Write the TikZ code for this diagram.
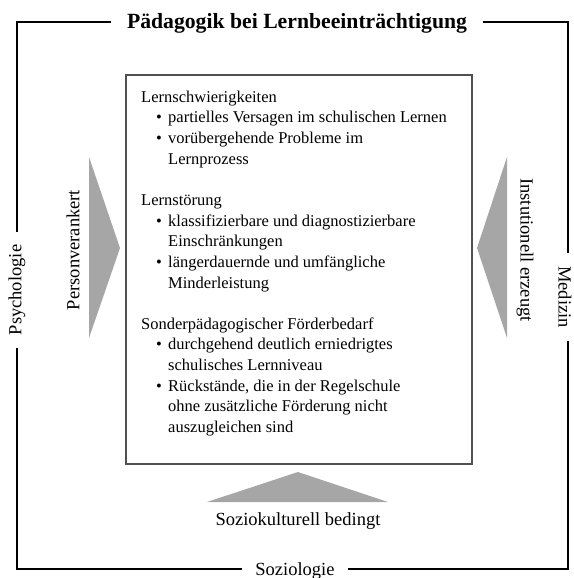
\documentclass[tikz,border=0pt]{standalone}
\usepackage{fontspec}
\setmainfont{Liberation Serif}
\usetikzlibrary{positioning}
\definecolor{pfeilgrau}{RGB}{166,166,166}
\definecolor{kastengrau}{RGB}{80,80,80}
\newcommand{\punkt}{\hspace*{15pt}\makebox[12pt][l]{\textbullet}}
\newcommand{\weiter}{\hspace*{27pt}}

\begin{document}
\begin{tikzpicture}[
    x=1pt, y=-1pt,
    rahmen/.style={draw, line width=1.3pt, minimum width=551pt, minimum height=547pt, inner sep=0pt},
    kasten/.style={draw=kastengrau, line width=1.5pt, minimum width=346pt, minimum height=389pt, inner sep=0pt},
    fach/.style={fill=white, inner xsep=13pt, inner ysep=1pt, font=\fontsize{18.5}{22}\selectfont},
    titel/.style={fill=white, inner xsep=16pt, inner ysep=1pt, font=\fontsize{21.7}{26}\selectfont\bfseries},
    ursache/.style={inner sep=0pt, font=\fontsize{18.5}{22}\selectfont},
    inhalt/.style={inner sep=0pt, align=left, font=\fontsize{16.5}{20.65}\selectfont},
    pfeil/.style={fill=pfeilgrau}
]
    \useasboundingbox (0,0) rectangle (573,578);

    % Rahmen mit Bezugsdisziplinen
    \node[rahmen] (rahmen) at (292.5,295.5) {};
    \node[titel, anchor=base] (titel) at (297,29) {Pädagogik bei Lernbeeinträchtigung};
    \node[fach, rotate=90] (psychologie) at (17,290) {Psychologie};
    \node[fach, rotate=-90] (medizin) at (565,297) {Medizin};
    \node[fach, anchor=base] (soziologie) at (295,575) {Soziologie};

    % Kasten mit Begriffen
    \node[kasten] (kasten) at (299,269.5) {};
    \node[inhalt, anchor=north west] (liste) at (141,90.5) {%
        Lernschwierigkeiten\\
        \punkt partielles Versagen im schulischen Lernen\\
        \punkt vorübergehende Probleme im\\
        \weiter Lernprozess\\[20.65pt]
        Lernstörung\\
        \punkt klassifizierbare und diagnostizierbare\\
        \weiter Einschränkungen\\
        \punkt längerdauernde und umfängliche\\
        \weiter Minderleistung\\[20.65pt]
        Sonderpädagogischer Förderbedarf\\
        \punkt durchgehend deutlich erniedrigtes\\
        \weiter schulisches Lernniveau\\
        \punkt Rückstände, die in der Regelschule\\
        \weiter ohne zusätzliche Förderung nicht\\
        \weiter auszugleichen sind};

    % Ursachen
    \fill[pfeil] (89,157) -- (120,248) -- (89,338) -- cycle;
    \fill[pfeil] (507,157) -- (477,248) -- (507,338) -- cycle;
    \fill[pfeil] (207,502) -- (298,472) -- (388,502) -- cycle;
    \node[ursache, rotate=90] (person) at (73,250) {Personverankert};
    \node[ursache, rotate=-90] (institution) at (525,250) {Instutionell erzeugt};
    \node[ursache, anchor=base] (sozio) at (298,525) {Soziokulturell bedingt};
\end{tikzpicture}
\end{document}
